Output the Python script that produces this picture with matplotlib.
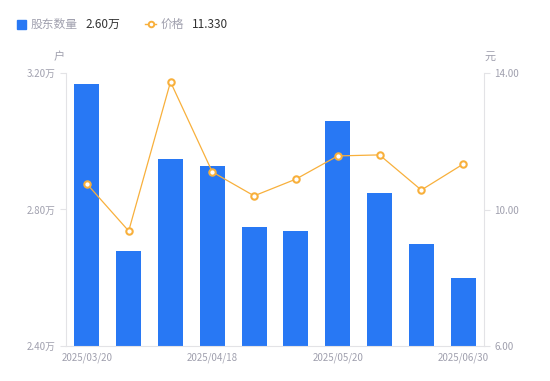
import numpy as np
import matplotlib.pyplot as plt
from matplotlib.patches import Rectangle
from matplotlib.lines import Line2D

plt.rcParams['font.family'] = ['Noto Sans CJK SC', 'DejaVu Sans']

dates = ['2025/03/20', '2025/03/31', '2025/04/10', '2025/04/18', '2025/04/30',
         '2025/05/10', '2025/05/20', '2025/05/31', '2025/06/20', '2025/06/30']
holders = [3.168, 2.678, 2.948, 2.927, 2.749, 2.737, 3.059, 2.848, 2.699, 2.600]  # 万户
price = [10.75, 9.37, 13.74, 11.10, 10.40, 10.89, 11.57, 11.60, 10.57, 11.33]

blue = '#2878F4'
orange = '#F8B03C'
gray = '#A0A0AE'
axcol = '#E3E3E6'

fig = plt.figure(figsize=(5.5, 3.81), dpi=100)
ax = fig.add_axes([66 / 550, 1 - 346 / 381, (484 - 66) / 550, (346 - 73) / 381])
x = np.arange(len(dates))
ax.bar(x, holders, width=0.6, color=blue, zorder=2)
ax.set_xlim(-0.5, len(dates) - 0.5)
ax.set_ylim(2.4, 3.2)
ax.set_yticks([2.4, 2.8, 3.2])
ax.set_yticklabels(['2.40万', '2.80万', '3.20万'])
ax.set_xticks(x[::3])
ax.set_xticklabels([dates[i] for i in range(0, len(dates), 3)])

ax2 = ax.twinx()
ax2.plot(x, price, color=orange, lw=0.9, marker='o', ms=4.6, mfc='white',
         mec=orange, mew=1.5, zorder=3)
ax2.set_ylim(6, 14)
ax2.set_yticks([6, 10, 14])
ax2.set_yticklabels(['6.00', '10.00', '14.00'])

for a in (ax, ax2):
    for s in a.spines.values():
        s.set_visible(False)
    a.tick_params(colors=gray, labelsize=7, length=4, width=0.8)
    a.tick_params(axis='y', color=axcol)
ax.spines['left'].set_visible(True)
ax.spines['left'].set_color(axcol)
ax.spines['bottom'].set_visible(True)
ax.spines['bottom'].set_color(axcol)
ax2.spines['right'].set_visible(True)
ax2.spines['right'].set_color(axcol)
ax.tick_params(axis='x', length=0, pad=5)
ax.set_zorder(1)
ax2.set_zorder(2)
ax.patch.set_visible(False)

fig.text(59 / 550, 1 - 57 / 381, '户', color=gray, fontsize=8, ha='center', va='center')
fig.text(490 / 550, 1 - 57 / 381, '元', color=gray, fontsize=8, ha='center', va='center')

# legend
ly = 1 - 24 / 381
fig.patches.append(Rectangle((17 / 550, 1 - 29 / 381), 9 / 550, 9 / 381,
                             transform=fig.transFigure, color=blue))
fig.text(31 / 550, ly, '股东数量', color=gray, fontsize=8.5, va='center')
fig.text(85 / 550, ly, '2.60万', color='#333333', fontsize=8.5, va='center')
fig.lines.append(Line2D([145 / 550, 156 / 550], [ly, ly], transform=fig.transFigure,
                        color=orange, lw=1))
fig.lines.append(Line2D([150.5 / 550], [ly], transform=fig.transFigure, color=orange,
                        marker='o', ms=4, mfc='white', mec=orange, mew=1.4))
fig.text(161 / 550, ly, '价格', color=gray, fontsize=8.5, va='center')
fig.text(192 / 550, ly, '11.330', color='#333333', fontsize=8.5, va='center')

fig.savefig('out.png', dpi=100)
